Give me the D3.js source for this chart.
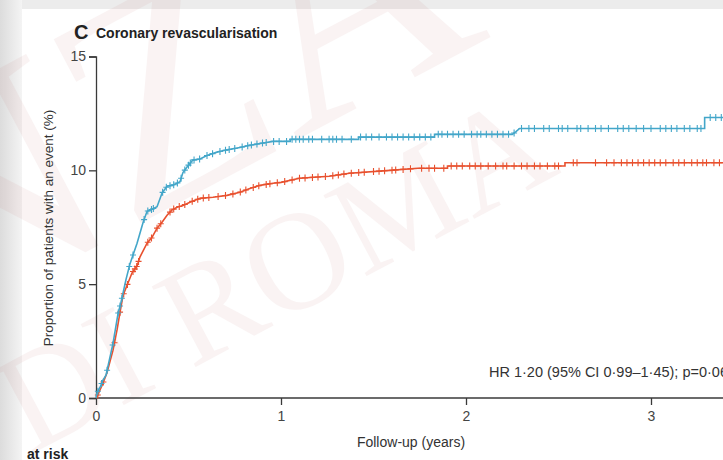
<!DOCTYPE html>
<html>
<head>
<meta charset="utf-8">
<script src="https://cdn.jsdelivr.net/npm/d3@7"></script>
<style>
  html, body { margin: 0; padding: 0; background: #fff; }
  svg { display: block; }
  text.lbl { font-family: "Liberation Sans", Arial, sans-serif; }
  text.wm { font-family: "Liberation Serif", "DejaVu Serif", serif; }
</style>
</head>
<body>
<div id="chart"></div>
<script>
// values: [years, % with event]
const blueCurve = [[0,0],[0.005,0.22],[0.02,0.44],[0.038,0.79],[0.054,1.0],[0.092,2.4],[0.119,3.7],[0.135,4.2],
  [0.146,4.6],[0.162,5.2],[0.184,5.9],[0.222,6.8],[0.254,7.7],[0.276,8.2],[0.292,8.25],[0.33,8.4],[0.357,9.0],
  [0.384,9.3],[0.416,9.35],[0.454,9.5],[0.47,9.9],[0.497,10.2],[0.524,10.45],[0.562,10.5],[0.6,10.65],[0.654,10.8],
  [0.708,10.9],[0.778,11.0],[0.832,11.1],[0.903,11.2],[0.957,11.27],[1.05,11.27],[1.05,11.36],[1.42,11.36],
  [1.42,11.46],[1.83,11.46],[1.83,11.58],[2.25,11.58],[2.27,11.7],[2.29,11.84],[3.29,11.84],[3.29,12.32],[3.45,12.32]];
const redCurve = [[0,0],[0.005,0.04],[0.038,0.66],[0.059,1.1],[0.092,2.1],[0.114,3.0],[0.13,3.77],[0.146,4.5],
  [0.168,4.95],[0.195,5.5],[0.222,5.8],[0.238,6.2],[0.276,6.8],[0.303,7.06],[0.33,7.46],[0.357,7.72],[0.384,8.03],
  [0.41,8.25],[0.438,8.38],[0.47,8.46],[0.508,8.6],[0.562,8.77],[0.632,8.82],[0.708,8.9],[0.778,9.04],[0.832,9.2],
  [0.886,9.34],[0.957,9.43],[1.0,9.47],[1.10,9.65],[1.26,9.74],[1.37,9.87],[1.59,10.0],[1.74,10.09],[1.90,10.09],
  [1.90,10.19],[2.535,10.19],[2.535,10.33],[3.45,10.33]];

// censoring marks (years)
const blueCensor = [0.01,0.03,0.06,0.09,0.12,0.13,0.14,0.18,0.2,0.26,0.28,0.3,0.31,0.36,0.38,0.4,0.42,0.44,0.46,
  0.48,0.5,0.51,0.53,0.56,0.6,0.63,0.67,0.7,0.72,0.75,0.79,0.82,0.84,0.87,0.9,0.92,0.96,0.99,1.03,1.06,1.08,1.1,
  1.12,1.15,1.17,1.22,1.26,1.28,1.3,1.33,1.38,1.43,1.46,1.49,1.53,1.57,1.6,1.63,1.66,1.69,1.72,1.75,1.78,1.81,
  1.85,1.87,1.9,1.93,1.96,1.99,2.03,2.06,2.08,2.11,2.14,2.17,2.2,2.23,2.26,2.3,2.34,2.37,2.42,2.45,2.5,2.52,2.55,
  2.6,2.62,2.66,2.7,2.73,2.77,2.82,2.85,2.88,2.92,2.96,3.0,3.05,3.08,3.11,3.14,3.18,3.21,3.25,3.27,3.32,3.35,3.38];
const redCensor = [0.01,0.04,0.1,0.13,0.15,0.17,0.2,0.21,0.22,0.23,0.28,0.3,0.33,0.35,0.4,0.42,0.45,0.48,0.52,
  0.55,0.58,0.61,0.66,0.7,0.74,0.78,0.81,0.85,0.88,0.92,0.94,0.98,1.02,1.06,1.1,1.13,1.17,1.2,1.24,1.28,1.31,1.34,
  1.38,1.42,1.45,1.5,1.53,1.56,1.6,1.62,1.66,1.7,1.76,1.8,1.83,1.88,1.92,1.95,1.98,2.02,2.05,2.08,2.12,2.16,2.2,
  2.22,2.26,2.3,2.33,2.37,2.4,2.44,2.48,2.5,2.58,2.6,2.7,2.76,2.8,2.84,2.87,2.9,2.93,2.96,2.99,3.02,3.05,3.08,
  3.12,3.15,3.18,3.22,3.25,3.28,3.3,3.34,3.37];

const xTicks = [0, 1, 2, 3];
const yTicks = [0, 5, 10, 15];

const W = 723, H = 460;
const svg = d3.select("#chart").append("svg").attr("width", W).attr("height", H);

// page background: grey gutter top and left
const defs = svg.append("defs");
const grad = defs.append("linearGradient").attr("id", "gut").attr("x1", 0).attr("x2", 1);
grad.append("stop").attr("offset", 0).attr("stop-color", "#dcdcdc");
grad.append("stop").attr("offset", 1).attr("stop-color", "#f4f4f4");
svg.append("rect").attr("width", W).attr("height", H).attr("fill", "#ececec");
svg.append("rect").attr("width", 22).attr("height", H).attr("fill", "url(#gut)");
svg.append("rect").attr("x", 22).attr("y", 9).attr("width", W - 22).attr("height", H - 9).attr("fill", "#fff");

// faint watermark
const wm = svg.append("g").attr("fill", "#b04040").attr("opacity", 0.06);
wm.append("text").attr("class", "wm").attr("transform", "translate(30,455) rotate(-28)")
  .attr("font-size", 140).text("DI ROMA");
wm.append("text").attr("class", "wm").attr("transform", "translate(-70,335) rotate(-28)")
  .attr("font-size", 310).text("NZA");

const x = d3.scaleLinear().domain([0, 1]).range([96, 281]);
const y = d3.scaleLinear().domain([0, 15]).range([398, 56.5]);

// axes
const axisColor = "#3a3a3a";
const yAxis = svg.append("g").attr("transform", "translate(96,0)")
  .call(d3.axisLeft(y).tickValues(yTicks).tickSize(7).tickPadding(3).tickFormat(d3.format("d")));
const xAxis = svg.append("g").attr("transform", "translate(0,398)")
  .call(d3.axisBottom(x).tickValues(xTicks).tickSize(7).tickPadding(6).tickFormat(d3.format("d")));
xAxis.select(".domain").attr("d", `M96,0H${W}`);
[yAxis, xAxis].forEach(g => {
  g.select(".domain").attr("stroke", axisColor).attr("stroke-width", 1.3);
  g.selectAll(".tick line").attr("stroke", axisColor).attr("stroke-width", 1.3);
  g.selectAll(".tick text").attr("class", "lbl").attr("fill", "#444").attr("font-size", 14);
});

// curves
const line = d3.line().x(d => x(d[0])).y(d => y(d[1]));
function valueAt(pts, t) {
  for (let i = pts.length - 1; i > 0; i--) {
    const a = pts[i - 1], b = pts[i];
    if (t >= a[0] && t <= b[0]) {
      if (b[0] === a[0]) return b[1];
      return a[1] + (b[1] - a[1]) * (t - a[0]) / (b[0] - a[0]);
    }
  }
  return pts[pts.length - 1][1];
}

const series = [
  { pts: redCurve, cens: redCensor, color: "#e8502e" },
  { pts: blueCurve, cens: blueCensor, color: "#43a6c9" }
];
const plot = svg.append("g");
series.forEach(s => {
  plot.append("path").attr("d", line(s.pts)).attr("fill", "none")
    .attr("stroke", s.color).attr("stroke-width", 1.6);
  const g = plot.append("g").attr("stroke", s.color).attr("stroke-width", 1.1);
  g.selectAll("path").data(s.cens).enter().append("path")
    .attr("d", t => {
      const px = x(t), py = y(valueAt(s.pts, t));
      return `M${px},${py - 3.5}V${py + 3.5}M${px - 3},${py}H${px + 3}`;
    });
});

// text
const txt = (xx, yy, size, str) => svg.append("text").attr("class", "lbl")
  .attr("x", xx).attr("y", yy).attr("font-size", size).attr("fill", "#333").text(str);
txt(74, 39, 20, "C").attr("font-weight", "bold").attr("fill", "#222");
txt(96, 38, 14, "Coronary revascularisation").attr("font-weight", "bold").attr("fill", "#222");
svg.append("text").attr("class", "lbl").attr("transform", "translate(53,228) rotate(-90)")
  .attr("text-anchor", "middle").attr("font-size", 13.5).attr("fill", "#333")
  .text("Proportion of patients with an event (%)");
txt(411, 447, 14, "Follow-up (years)").attr("text-anchor", "middle");
txt(489, 377, 14.5, "HR 1·20 (95% CI 0·99–1·45); p=0·061");
txt(27, 459, 14, "at risk").attr("font-weight", "bold").attr("fill", "#222");
</script>
</body>
</html>
